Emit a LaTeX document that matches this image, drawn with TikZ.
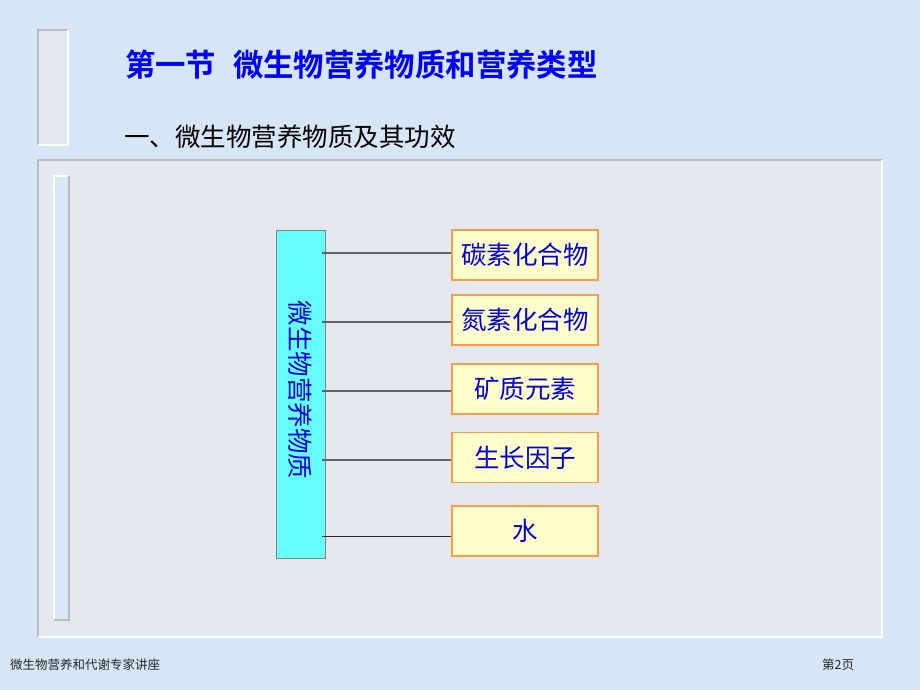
\documentclass[tikz,border=0pt]{standalone}
\usepackage{fontspec}
\newfontfamily\cjk{Noto Sans CJK SC}
\newfontfamily\cjkbold{Noto Sans CJK SC Bold}
\definecolor{bgblue}{HTML}{D6E6F6}
\definecolor{panel}{HTML}{E5E9EF}
\definecolor{edgegray}{HTML}{B8BCC2}
\definecolor{cyanbox}{HTML}{66FFFF}
\definecolor{yellowbox}{HTML}{FFFFCC}
\definecolor{orangeedge}{HTML}{FF9A4A}
\definecolor{textblue}{HTML}{0000E0}
\definecolor{linegray}{HTML}{606468}
\begin{document}
\begin{tikzpicture}[x=1pt,y=-1pt,
  itembox/.style={draw=orangeedge,line width=1.2pt,fill=yellowbox,minimum width=146pt,minimum height=50pt,inner sep=0pt,font=\cjk\fontsize{25.5}{25.5}\selectfont,text=textblue},
  conn/.style={draw=linegray,line width=1.3pt},
  bevel/.style={line width=1.5pt}]
\useasboundingbox (0,0) rectangle (920,690);
\fill[bgblue] (0,0) rectangle (920,690);
% top-left small bar
\fill[panel] (38,30) rectangle (68,145);
\draw[bevel,edgegray] (38,145) -- (38,30) -- (68,30);
\draw[bevel,white] (68,30) -- (68,145) -- (38,145);
% main panel
\fill[panel] (38,160) rectangle (882,637);
\draw[bevel,edgegray] (38,637) -- (38,160) -- (882,160);
\draw[bevel,white] (882,160) -- (882,637) -- (38,637);
% inner vertical bar
\fill[bgblue!70!panel] (54,176) rectangle (69,620);
\draw[bevel,white] (54,620) -- (54,176) -- (69,176);
\draw[bevel,edgegray] (69,176) -- (69,620) -- (54,620);
% titles
\node[anchor=west,text=blue,font=\cjkbold\fontsize{31}{31}\selectfont,inner sep=0pt,xscale=0.98] (title) at (125,65) {第一节\hspace{0.55em}微生物营养物质和营养类型};
\node[anchor=west,text=black,font=\cjk\fontsize{25.5}{25.5}\selectfont,inner sep=0pt] (sub) at (124,137) {一、微生物营养物质及其功效};
% diagram
\node[draw=gray,line width=0.8pt,fill=cyanbox,minimum width=49pt,minimum height=328pt,inner sep=0pt] (main) at (300.5,394) {};
\node[rotate=-90,text=textblue,font=\cjk\fontsize{25.5}{25.5}\selectfont,inner sep=0pt] (mainlabel) at ([yshift=4pt]main.center) {微生物营养物质};
\node[itembox] (c1) at (525,255) {碳素化合物};
\node[itembox] (c2) at (525,320) {氮素化合物};
\node[itembox] (c3) at (525,389) {矿质元素};
\node[itembox] (c4) at (525,457.5) {生长因子};
\node[itembox] (c5) at (525,531) {水};
\coordinate (mq) at ([xshift=-3pt]main.east);
\coordinate (p1) at ([yshift=2pt]c1.west);
\coordinate (p2) at ([yshift=-2pt]c2.west);
\coordinate (p3) at ([yshift=-2pt]c3.west);
\coordinate (p4) at ([yshift=-2.5pt]c4.west);
\coordinate (p5) at ([yshift=-5pt]c5.west);
\draw[conn] (p1) -- (p1 -| mq);
\draw[conn] (p2) -- (p2 -| mq);
\draw[conn] (p3) -- (p3 -| mq);
\draw[conn] (p4) -- (p4 -| mq);
\draw[conn,draw=black!85,line width=1pt] (p5) -- (p5 -| mq);
% footer
\node[anchor=west,font=\cjk\fontsize{12.5}{12.5}\selectfont,inner sep=0pt,text=black!85] (foot) at (10,665) {微生物营养和代谢专家讲座};
\node[anchor=west,font=\cjk\fontsize{12.5}{12.5}\selectfont,inner sep=0pt,text=black!85] (page) at (822,665) {第2页};
\end{tikzpicture}
\end{document}
